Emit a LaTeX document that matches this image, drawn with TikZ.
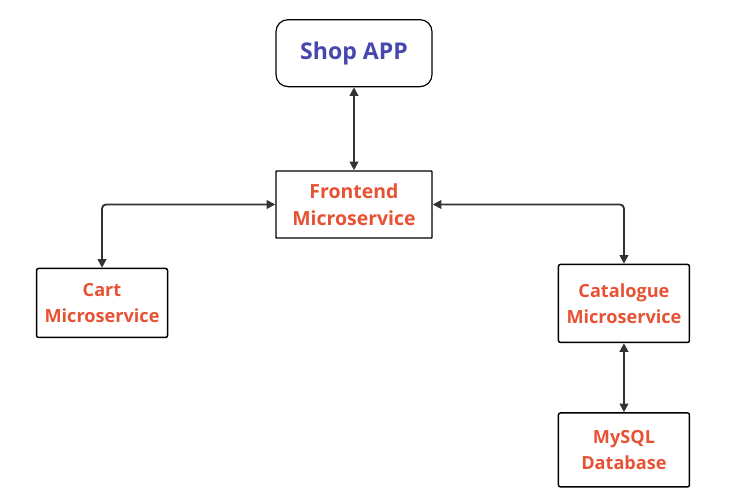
\documentclass[tikz,border=0pt]{standalone}
\usepackage{fontspec}
\setmainfont{Open Sans}
\usetikzlibrary{positioning, arrows.meta}
\definecolor{svcred}{RGB}{232,82,52}
\definecolor{appblue}{RGB}{72,72,172}
\definecolor{linegray}{RGB}{51,51,51}

\begin{document}
\begin{tikzpicture}[
    app/.style={rectangle, rounded corners=9pt, minimum width=117pt, minimum height=50.25pt, text centered, draw=black, line width=0.9pt, text=appblue, font=\fontsize{17.3}{20}\selectfont\bfseries},
    service/.style={rectangle, rounded corners=1.5pt, minimum width=98.25pt, inner xsep=1pt, text centered, align=center, draw=black, line width=1.1pt, text=svcred, font=\fontsize{13.6}{19.5}\selectfont\bfseries},
    arrow/.style={line width=1.4pt, draw=linegray, {Triangle[length=6.5pt,width=6.5pt]}-{Triangle[length=6.5pt,width=6.5pt]}, rounded corners=3pt},
]

\useasboundingbox (-265.5pt,-223.125pt) rectangle (285pt,153.375pt);

% Frontend in the middle
\node[service, minimum width=117pt, minimum height=50.25pt, rounded corners=0.5pt, font=\fontsize{14.6}{20}\selectfont\bfseries] (frontend) {Frontend\\Microservice};

% Shop app on top
\node[app, above=62.25pt of frontend] (shop) {Shop APP};

% Cart service on the left
\node[service, minimum height=51.75pt, below left=21.75pt and 80.25pt of frontend] (cart) {Cart\\Microservice};

% Catalogue service on the right
\node[service, minimum height=58.5pt, below right=18.75pt and 93.75pt of frontend] (catalogue) {Catalogue\\Microservice};

% Database below catalogue
\node[service, minimum height=55.5pt, below=51.75pt of catalogue] (mysql) {MySQL\\Database};

% Draw the arrows
\draw[arrow] (shop) -- (frontend);
\draw[arrow] (frontend.west) -| (cart.north);
\draw[arrow] (frontend.east) -| (catalogue.north);
\draw[arrow] (catalogue) -- (mysql);

\end{tikzpicture}
\end{document}
